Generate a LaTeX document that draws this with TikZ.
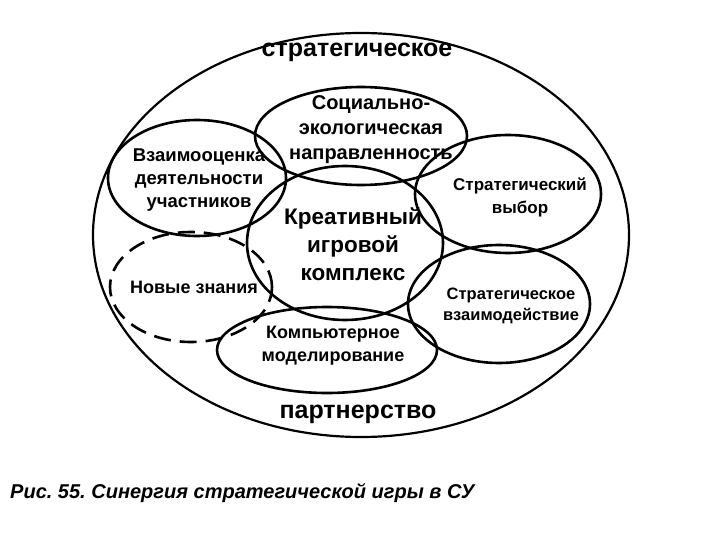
\documentclass[tikz,border=0pt]{standalone}
\usepackage{fontspec}
\setmainfont{Liberation Sans}
\usetikzlibrary{shapes.geometric}
\frenchspacing
\begin{document}
\begin{tikzpicture}[x=1pt,y=-1pt,
  ov/.style={draw=black,line width=2.6pt,ellipse,inner sep=0pt},
  lbl/.style={font=\bfseries\fontsize{18}{23}\selectfont,align=center,inner sep=0pt},
  big/.style={font=\bfseries\fontsize{25}{28}\selectfont,align=center,inner sep=0pt}]
\useasboundingbox (0,0) rectangle (720,540);
\fill[white] (0,0) rectangle (720,540);
% outer
\node[ov,line width=2.2pt,minimum width=536pt,minimum height=404pt] (outer) at (361,235) {};
\node[big] (t1) at (357,52) {стратегическое};
\node[big] (t2) at (358,414) {партнерство};
% inner ellipses
\node[ov,minimum width=212pt,minimum height=98pt] (soc) at (361,136) {};
\node[ov,minimum width=178pt,minimum height=116pt] (vza) at (197,178) {};
\node[ov,minimum width=196pt,minimum height=154pt] (kre) at (345,243) {};
\node[ov,minimum width=186pt,minimum height=118pt] (vyb) at (508,194) {};
\node[ov,minimum width=182pt,minimum height=118pt] (vzd) at (499,304) {};
\node[ov,minimum width=220pt,minimum height=86pt] (komp) at (327,350) {};
\node[ov,dash pattern=on 17pt off 9pt,minimum width=162pt,minimum height=110pt] (nov) at (191,287) {};
% labels
\node[lbl,font=\bfseries\fontsize{20}{25}\selectfont] (lsoc) at (371,130) {Социально-\\экологическая\\направленность};
\node[lbl,font=\bfseries\fontsize{18.5}{23}\selectfont] (lvza) at (199,180) {Взаимооценка\\деятельности\\участников};
\node[lbl,font=\bfseries\fontsize{22.5}{28}\selectfont] (lkre) at (353,244) {Креативный\\игровой\\комплекс};
\node[lbl,font=\bfseries\fontsize{17}{23}\selectfont] (lvyb) at (520,197) {Стратегический\\выбор};
\node[lbl,font=\bfseries\fontsize{16.5}{21}\selectfont] (lvzd) at (511,306) {Стратегическое\\взаимодействие};
\node[lbl] (lkomp) at (333,346) {Компьютерное\\моделирование};
\node[lbl] (lnov) at (194,287) {Новые знания};
% caption
\node[anchor=west,font=\bfseries\itshape\fontsize{20}{24}\selectfont,inner sep=0pt] (cap) at (10,493) {Рис. 55. Синергия стратегической игры в СУ};
\end{tikzpicture}
\end{document}
